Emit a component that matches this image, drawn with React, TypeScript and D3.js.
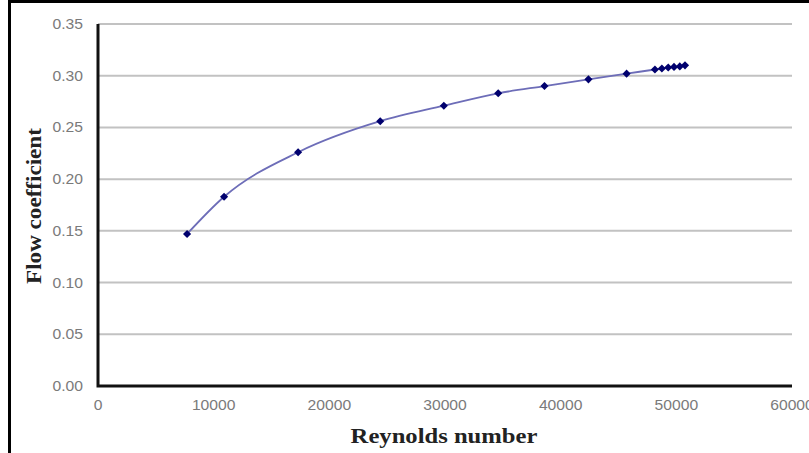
import React, { useEffect, useRef } from "react";
import * as d3 from "d3";

// Reynolds number vs flow coefficient
const reynolds = [7700, 10900, 17300, 24400, 29900, 34600, 38600, 42400, 45700, 48150, 48750, 49300, 49800, 50300, 50750];
const flowCoef = [0.147, 0.183, 0.226, 0.256, 0.271, 0.283, 0.290, 0.2965, 0.302, 0.306, 0.307, 0.308, 0.3085, 0.309, 0.310];
const yTicks = [0, 0.05, 0.1, 0.15, 0.2, 0.25, 0.3, 0.35];
const xTicks = [0, 10000, 20000, 30000, 40000, 50000, 60000];

const W = 809;
const H = 453;

export default function App() {
  const ref = useRef<SVGSVGElement>(null);

  useEffect(() => {
    const svg = d3.select(ref.current);
    svg.selectAll("*").remove();

    const margin = { top: 24, right: 17, bottom: 67, left: 98 };
    const x = d3.scaleLinear().domain([0, 60000]).range([margin.left, W - margin.right]);
    const y = d3.scaleLinear().domain([0, 0.35]).range([H - margin.bottom, margin.top]);

    svg.append("rect").attr("width", W).attr("height", H).attr("fill", "#fff");

    // outer frame
    svg.append("path")
      .attr("d", `M9.5,${H} V1.5 H${W + 5}`)
      .attr("fill", "none")
      .attr("stroke", "#000")
      .attr("stroke-width", 3);

    // gridlines
    svg.append("g")
      .selectAll("line")
      .data(yTicks.filter(d => d > 0))
      .join("line")
      .attr("x1", x(0)).attr("x2", x(60000))
      .attr("y1", d => y(d)).attr("y2", d => y(d))
      .attr("stroke", "#c2c2c2")
      .attr("stroke-width", 2);

    // axes
    svg.append("path")
      .attr("d", `M${x(0)},${y(0.35)} V${y(0)} H${x(60000)}`)
      .attr("fill", "none")
      .attr("stroke", "#111")
      .attr("stroke-width", 3);

    const tickFont = "'Liberation Sans', Arial, sans-serif";
    svg.append("g")
      .selectAll("text")
      .data(yTicks)
      .join("text")
      .attr("transform", d => `translate(83,${y(d)}) scale(1.12,1)`)
      .attr("text-anchor", "end")
      .attr("dy", "0.36em")
      .attr("font-family", tickFont)
      .attr("font-size", 14)
      .attr("fill", "#7a7a7a")
      .text(d => d3.format(".2f")(d));

    svg.append("g")
      .selectAll("text")
      .data(xTicks)
      .join("text")
      .attr("transform", d => `translate(${x(d)},410) scale(1.12,1)`)
      .attr("text-anchor", "middle")
      .attr("font-family", tickFont)
      .attr("font-size", 14)
      .attr("fill", "#7a7a7a")
      .text(d => String(d));

    const titleFont = "'Liberation Serif', 'Times New Roman', serif";
    svg.append("text")
      .attr("transform", "translate(444,443) scale(1.12,1)")
      .attr("text-anchor", "middle")
      .attr("font-family", titleFont)
      .attr("font-weight", "bold")
      .attr("font-size", 22)
      .attr("fill", "#222")
      .text("Reynolds number");

    svg.append("text")
      .attr("transform", "translate(41,206) rotate(-90) scale(1.05,1)")
      .attr("text-anchor", "middle")
      .attr("font-family", titleFont)
      .attr("font-weight", "bold")
      .attr("font-size", 22)
      .attr("fill", "#222")
      .text("Flow coefficient");

    const pts = reynolds.map((r, i) => [r, flowCoef[i]] as [number, number]);

    const line = d3.line<[number, number]>()
      .x(d => x(d[0]))
      .y(d => y(d[1]))
      .curve(d3.curveMonotoneX);

    svg.append("path")
      .datum(pts)
      .attr("d", line)
      .attr("fill", "none")
      .attr("stroke", "#6d6db8")
      .attr("stroke-width", 1.8);

    const diamond = d3.symbol().type(d3.symbolDiamond2).size(42);
    svg.append("g")
      .selectAll("path")
      .data(pts)
      .join("path")
      .attr("transform", d => `translate(${x(d[0])},${y(d[1])})`)
      .attr("d", diamond)
      .attr("fill", "#00006e");
  }, []);

  return (
    <svg
      ref={ref}
      width={W}
      height={H}
      style={{ position: "absolute", left: 0, top: 0, display: "block" }}
    />
  );
}
